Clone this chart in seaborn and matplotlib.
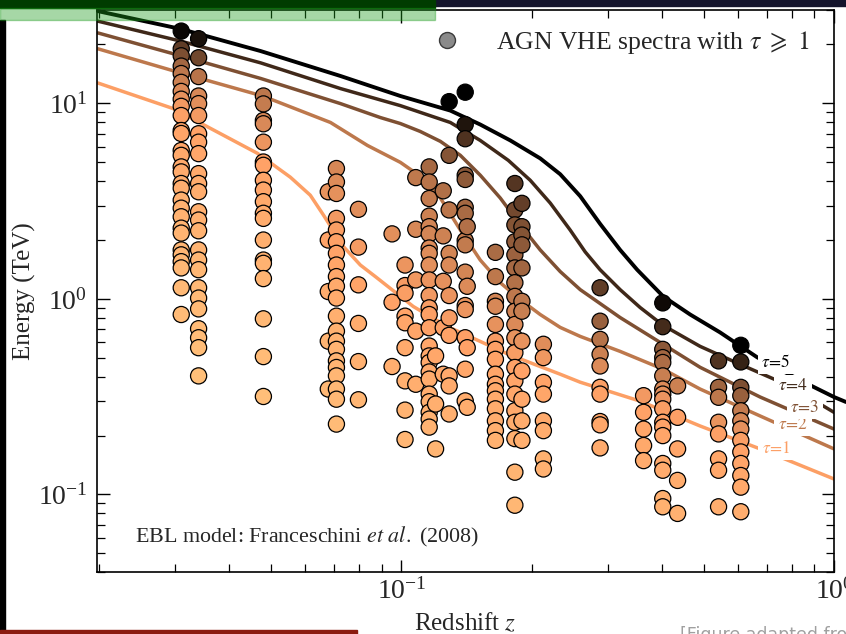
import numpy as np
import pandas as pd
import matplotlib
matplotlib.use("Agg")
import matplotlib.pyplot as plt
from matplotlib.patches import Rectangle
from matplotlib.lines import Line2D
import seaborn as sns

# ---------------- data (redshift z, energies in TeV) ----------------
src_z = [0.031, 0.034, 0.048, 0.0678, 0.0708, 0.0796, 0.0952, 0.102, 0.108,
         0.116, 0.120, 0.125, 0.129, 0.1405, 0.142, 0.165, 0.183, 0.190,
         0.213, 0.288, 0.363, 0.402, 0.435, 0.541, 0.609]

E_0031 = [23.4, 19.0, 17.5, 15.5, 14.2, 12.8, 11.5, 10.5, 9.65, 8.66, 7.26, 7.01,
          5.74, 5.42, 4.73, 4.46, 3.89, 3.68, 3.20, 2.91, 2.63, 2.30, 2.17, 1.78,
          1.68, 1.55, 1.44, 1.14, 0.832]
E_0034 = [21.4, 17.1, 13.7, 10.9, 9.96, 8.66, 6.99, 6.33, 5.53, 4.37, 3.89, 3.53,
          2.79, 2.53, 2.23, 1.78, 1.58, 1.41, 1.14, 1.01, 0.889, 0.704, 0.633,
          0.563, 0.404]
E_0048 = [10.9, 9.93, 8.17, 7.86, 6.33, 5.01, 4.82, 4.04, 3.60, 3.14, 2.74, 2.58,
          2.00, 1.58, 1.52, 1.27, 0.791, 0.507, 0.317]
E_0068 = [3.53, 2.00, 1.09, 0.608, 0.346]
E_0071 = [4.64, 3.96, 3.46, 2.58, 2.25, 1.96, 1.71, 1.49, 1.30, 1.16, 1.01, 0.816,
          0.684, 0.608, 0.552, 0.482, 0.446, 0.404, 0.346, 0.307, 0.229]
E_0080 = [2.87, 1.84, 1.18, 0.749, 0.478, 0.305]
E_0095 = [2.15, 0.961, 0.451]
E_0102 = [1.49, 1.17, 1.07, 0.816, 0.755, 0.563, 0.381, 0.270, 0.191]
E_0108 = [4.17, 2.27, 1.25, 0.684, 0.366]
E_0116 = [4.73, 3.96, 3.26, 2.65, 2.34, 2.15, 1.82, 1.71, 1.49, 1.25, 1.04, 0.900,
          0.832, 0.712, 0.574, 0.511, 0.473, 0.423, 0.389, 0.326, 0.298, 0.263,
          0.243, 0.221]
E_0120 = [0.511, 0.290, 0.171]
E_0125 = [3.57, 2.10, 1.23, 0.712, 0.412]
E_0129 = [10.2, 5.42, 2.85, 1.71, 1.49, 1.04, 0.800, 0.651, 0.404, 0.359, 0.258]
E_0140 = [11.4, 7.79, 6.59, 4.29, 4.08, 2.94, 2.74, 1.99, 1.89, 1.37, 0.925, 0.882,
          0.633, 0.437, 0.301]
E_0142 = [2.34, 1.16, 0.563, 0.279]
E_0165 = [1.73, 1.30, 0.972, 0.917, 0.740, 0.608, 0.552, 0.491, 0.412, 0.366,
          0.339, 0.307, 0.274, 0.238, 0.212, 0.189]
E_0183 = [3.89, 2.85, 2.39, 1.96, 1.68, 1.44, 1.21, 1.03, 0.865, 0.740, 0.633,
          0.531, 0.446, 0.381, 0.326, 0.268, 0.234, 0.193, 0.130, 0.0881]
E_0190 = [3.08, 2.34, 2.12, 1.89, 1.44, 0.972, 0.865, 0.608, 0.428, 0.307, 0.238,
          0.189]
E_0213 = [0.586, 0.501, 0.374, 0.326, 0.238, 0.212, 0.152, 0.135]
E_0288 = [1.14, 0.769, 0.621, 0.521, 0.454, 0.353, 0.326, 0.236, 0.227, 0.173]
E_0363 = [0.320, 0.263, 0.216, 0.178, 0.149]
E_0402 = [0.954, 0.721, 0.552, 0.501, 0.473, 0.404, 0.346, 0.326, 0.307, 0.274,
          0.234, 0.221, 0.200, 0.144, 0.133, 0.0953, 0.0865]
E_0435 = [0.359, 0.248, 0.171, 0.118, 0.080]
E_0541 = [0.482, 0.353, 0.314, 0.234, 0.204, 0.152, 0.133, 0.0865]
E_0609 = [0.579, 0.476, 0.353, 0.320, 0.268, 0.238, 0.216, 0.189, 0.165, 0.144,
          0.125, 0.109, 0.0816]

src_E = [E_0031, E_0034, E_0048, E_0068, E_0071, E_0080, E_0095, E_0102, E_0108,
         E_0116, E_0120, E_0125, E_0129, E_0140, E_0142, E_0165, E_0183, E_0190,
         E_0213, E_0288, E_0363, E_0402, E_0435, E_0541, E_0609]

# optical-depth contours tau = 1..5
tau_levels = [1, 2, 3, 4, 5]
tau1_z = [0.0199, 0.0297, 0.0465, 0.0554, 0.0616, 0.0661, 0.0735, 0.0804, 0.0871,
          0.1066, 0.1277, 0.1522, 0.1767, 0.2329, 0.2591, 0.3565, 0.4903, 0.6749, 1.0]
tau1_E = [12.7, 9.40, 5.55, 4.19, 3.39, 2.68, 1.85, 1.49, 1.30, 0.914, 0.723, 0.606,
          0.521, 0.412, 0.375, 0.300, 0.224, 0.171, 0.120]
tau2_z = [0.0199, 0.0309, 0.0478, 0.0686, 0.0835, 0.0995, 0.1106, 0.1231, 0.1369,
          0.1522, 0.1693, 0.1883, 0.2094, 0.2329, 0.2591, 0.3204, 0.4029, 0.4903,
          0.6749, 1.0]
tau2_E = [19.0, 14.3, 10.9, 7.98, 6.09, 4.99, 4.24, 3.28, 2.25, 1.58, 1.21, 0.992,
          0.832, 0.715, 0.643, 0.539, 0.437, 0.346, 0.252, 0.171]
tau3_z = [0.0199, 0.0309, 0.0473, 0.0723, 0.0894, 0.0995, 0.1106, 0.1231, 0.1369,
          0.1522, 0.1693, 0.1883, 0.2094, 0.2329, 0.2591, 0.3204, 0.4029, 0.4903,
          0.6749, 1.0]
tau3_E = [22.9, 17.5, 13.4, 9.97, 8.46, 7.88, 7.18, 6.39, 5.42, 4.29, 3.28, 2.39,
          1.78, 1.38, 1.115, 0.803, 0.586, 0.447, 0.315, 0.216]
tau4_z = [0.0199, 0.0309, 0.0473, 0.0723, 0.0995, 0.1298, 0.1522, 0.1767, 0.1986,
          0.2209, 0.2456, 0.2660, 0.2880, 0.3204, 0.3565, 0.4029, 0.4903, 0.6066,
          0.7914, 1.0]
tau4_E = [26.3, 20.8, 16.1, 11.9, 9.73, 7.98, 6.46, 5.11, 4.04, 3.09, 2.25, 1.74,
          1.41, 1.115, 0.903, 0.732, 0.572, 0.463, 0.358, 0.263]
tau5_z = [0.0199, 0.0309, 0.0473, 0.0723, 0.0995, 0.1298, 0.1522, 0.1786, 0.2094,
          0.2329, 0.2591, 0.2880, 0.3204, 0.3508, 0.4029, 0.4651, 0.5453, 0.6643,
          0.8346, 1.0, 1.066]
tau5_E = [29.6, 24.0, 18.5, 13.8, 10.9, 9.18, 7.79, 6.46, 5.23, 4.34, 3.35, 2.42,
          1.78, 1.41, 1.03, 0.832, 0.674, 0.503, 0.384, 0.315, 0.297]

tau_z = [tau1_z, tau2_z, tau3_z, tau4_z, tau5_z]
tau_E = [tau1_E, tau2_E, tau3_E, tau4_E, tau5_E]

legend_text = r"AGN VHE spectra with $\tau\ \geqslant\ 1$"
model_text = r"EBL model: Franceschini $et$ $al.$ (2008)"
credit_text = "[Figure adapted from"

# ---------------- derived table ----------------
rows = []
for z, Es in zip(src_z, src_E):
    for e in Es:
        rows.append((z, e))
df = pd.DataFrame(rows, columns=["z", "E"])


def tau_at(z, e):
    lz = np.log10(z)
    L = np.array([np.interp(lz, np.log10(tz), np.log10(tE)) for tz, tE in zip(tau_z, tau_E)])
    le = np.log10(e)
    if le >= L[0]:
        return float(np.interp(le, L, tau_levels))
    return float((e / 10 ** L[0]) ** 0.5)


df["tau"] = [tau_at(z, e) for z, e in zip(df.z, df.E)]

# ---------------- style ----------------
sns.set_style("ticks")
plt.rcParams["font.family"] = ["Liberation Serif", "DejaVu Serif"]
plt.rcParams["mathtext.fontset"] = "stix"
plt.rcParams["axes.unicode_minus"] = False

cmap = plt.get_cmap("copper_r")

fig = plt.figure(figsize=(8.46, 6.34), dpi=100)
fig.patch.set_facecolor("white")
ax = fig.add_axes([97 / 846, (634 - 572.3) / 634, (834 - 97) / 846, (572.3 - 10) / 634])
ax.set_xscale("log")
ax.set_yscale("log")

for k, tz, tE in zip(tau_levels, tau_z, tau_E):
    sns.lineplot(x=tz, y=tE, ax=ax, color=cmap(k / 5), lw=2.8 if k == 5 else 2.5,
                 sort=False, estimator=None, zorder=2, clip_on=(k != 5))

sns.scatterplot(data=df, x="z", y="E", hue="tau", palette="copper_r", hue_norm=(0, 5),
                s=135, edgecolor="black", linewidth=0.9, legend=False, ax=ax, zorder=3)

# contour labels
label_pos = [(0.7345, 0.171), (0.804, 0.2268), (0.857, 0.277), (0.804, 0.358), (0.7345, 0.474)]
for k, (lx, ly) in zip(tau_levels, label_pos):
    ax.text(lx, ly, r"$\tau\!=\!%d$" % k, color=cmap(k / 5), fontsize=12.5, ha="center",
            va="center", zorder=4,
            bbox=dict(boxstyle="square,pad=0.2", fc="white", ec="none"))

ax.set_xlim(0.0198, 1.0)
ax.set_ylim(0.04, 30)
ax.set_xlabel(r"Redshift $z$", fontsize=18, labelpad=5)
ax.set_ylabel("Energy (TeV)", fontsize=18, labelpad=1)
ax.tick_params(which="both", direction="in", top=True, right=True, labelsize=20,
               color="black")
ax.tick_params(which="major", length=9.0, width=1.0)
ax.tick_params(axis="x", which="major", pad=4)
ax.tick_params(axis="y", which="major", pad=7)
ax.tick_params(which="minor", length=5.5, width=0.9)
for s in ax.spines.values():
    s.set_linewidth(1.2)
    s.set_color("black")

handle = Line2D([], [], marker="o", ls="", markersize=11.5, markerfacecolor="#8a8a8a",
                markeredgecolor="#3a3a3a", markeredgewidth=1.0)
ax.legend([handle], [legend_text], loc="upper right", bbox_to_anchor=(0.98, 0.985),
          frameon=False, fontsize=18.5, handlelength=1.0, handletextpad=1.4,
          borderaxespad=0)

ax.text(0.0516, 0.063, model_text, transform=ax.transAxes, fontsize=15.8,
        ha="left", va="center")

# ---------------- slide decorations ----------------
W, H = 846.0, 634.0
fig.patches.append(Rectangle((0, 1 - 6 / H), 1, 6 / H, transform=fig.transFigure,
                             color="#14142c", zorder=10))
fig.patches.append(Rectangle((0, 1 - 8 / H), 435 / W, 8 / H, transform=fig.transFigure,
                             color="#003c00", zorder=11))
fig.patches.append(Rectangle((0, 1 - 20 / H), 435 / W, 12 / H, transform=fig.transFigure,
                             color="#1a991a", alpha=0.39, zorder=11))
fig.patches.append(Rectangle((0, 0), 5 / W, 1 - 20 / H, transform=fig.transFigure,
                             color="black", zorder=10))
fig.patches.append(Rectangle((0, 0), 357 / W, 4 / H, transform=fig.transFigure,
                             color="#8b1c10", zorder=11))
fig.text(680 / W, (634 - 626) / H, credit_text, color="#a0a0a0", fontsize=12.5,
         family="DejaVu Sans", ha="left", va="top")

fig.savefig("out.png", dpi=100)
